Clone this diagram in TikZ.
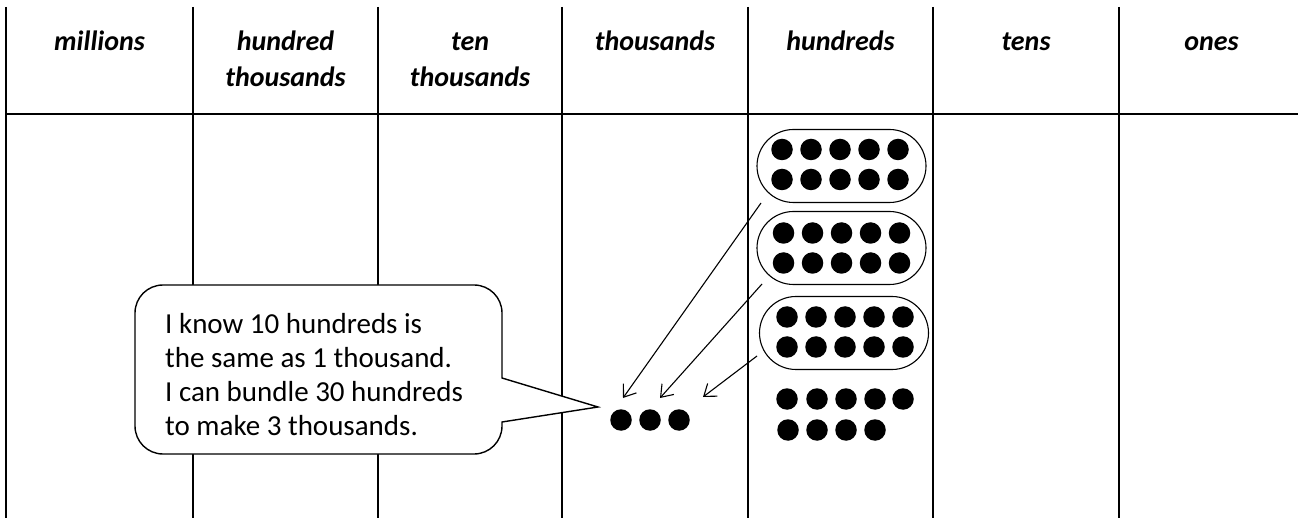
\documentclass[tikz,border=0pt]{standalone}
\usepackage{fontspec}
\setmainfont{Carlito}
\usetikzlibrary{arrows.meta,shapes.misc}
\begin{document}
\begin{tikzpicture}[x=1pt,y=-1pt,
  grid/.style={line width=1.2pt, black},
  head/.style={font=\fontsize{28}{36}\selectfont\bfseries\itshape, align=center, anchor=north, inner sep=0pt},
  bundle/.style={draw, rounded rectangle, line width=1.1pt, minimum width=169pt, minimum height=73pt, inner sep=0pt},
  dot/.style={circle, fill=black, minimum size=21.5pt, inner sep=0pt},
  arr/.style={line width=1.1pt, -{Straight Barb[length=11pt,width=16pt]}},
  bubble/.style={line width=1.4pt},
  say/.style={font=\fontsize{29}{34}\selectfont, align=left, anchor=north west, inner sep=0pt}
]
\useasboundingbox (0,0) rectangle (1298,518);

% grid
\foreach \x in {6,193,378,562,748,933,1119}
  \draw[grid] (\x,7) -- (\x,518);
\draw[grid] (6,114) -- (1298,114);

% headers
\node[head] (h1) at (99.5,24.8) {\strut millions};
\node[head] (h2) at (285.5,24.8) {\strut hundred\\thousands};
\node[head] (h3) at (470,24.8) {\strut ten\\thousands};
\node[head] (h4) at (655,24.8) {\strut thousands};
\node[head] (h5) at (840.5,24.8) {\strut hundreds};
\node[head] (h6) at (1026,24.8) {\strut tens};
\node[head] (h7) at (1211.5,24.8) {\strut ones};

% bundles of ten hundreds
\node[bundle] (b1) at (841.5,166) {};
\node[bundle] (b2) at (841.5,248) {};
\node[bundle] (b3) at (844,333) {};
\foreach \b/\cx/\cy in {1/840/164.5, 2/841.5/248, 3/845/332}
  \foreach \i in {1,...,5} {
    \node[dot] (d\b a\i) at ({\cx+(\i-3)*29},{\cy-15}) {};
    \node[dot] (d\b b\i) at ({\cx+(\i-3)*29},{\cy+15}) {};
  }
% loose hundreds
\foreach \i/\x in {1/787,2/817,3/846,4/875,5/903}
  \node[dot] (la\i) at (\x,399) {};
\foreach \i/\x in {1/788,2/817,3/846,4/875}
  \node[dot] (lb\i) at (\x,430) {};

% three thousands
\node[dot] (t1) at (621,420) {};
\node[dot] (t2) at (650,420) {};
\node[dot] (t3) at (679,420) {};

% arrows
\coordinate (s1) at (761,203);
\coordinate (s2) at (762,284);
\coordinate (s3) at (757,356);
\coordinate (e1) at (623,398);
\coordinate (e2) at (660,398);
\coordinate (e3) at (703,397);
\draw[arr] (s1) -- (e1);
\draw[arr] (s2) -- (e2);
\draw[arr] (s3) -- (e3);

% speech bubble
\draw[bubble, fill=white] (163,285) -- (474,285)
  .. controls (489.5,285) and (502,297.5) .. (502,313)
  -- (502,378) -- (598,407) -- (502,422) -- (502,426)
  .. controls (502,441.5) and (489.5,454) .. (474,454)
  -- (163,454)
  .. controls (147.5,454) and (135,441.5) .. (135,426)
  -- (135,313)
  .. controls (135,297.5) and (147.5,285) .. (163,285) -- cycle;
\node[say] (txt) at (165,309) {\strut I know 10 hundreds is\\the same as 1 thousand.\\I can bundle 30 hundreds\\to make 3 thousands.};
\end{tikzpicture}
\end{document}
